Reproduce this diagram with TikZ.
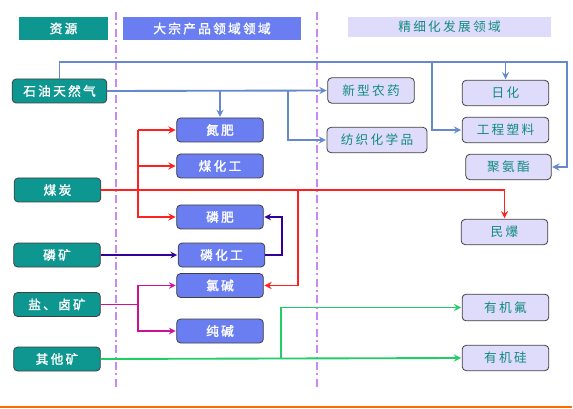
\documentclass[tikz,border=0pt]{standalone}
\usepackage{fontspec}
\newfontfamily\cjk{Noto Sans CJK SC}[LetterSpace=18]
\newfontfamily\cjkbold{Noto Sans CJK SC}[LetterSpace=18, FakeBold=1.6]
\definecolor{resteal}{HTML}{0E9690}
\definecolor{bulkblue}{HTML}{6A7EF2}
\definecolor{finelav}{HTML}{DEDCFA}
\definecolor{finetext}{HTML}{128A84}
\definecolor{oilblue}{HTML}{6688CC}
\definecolor{coalred}{HTML}{FF2020}
\definecolor{phospurple}{HTML}{330099}
\definecolor{saltmag}{HTML}{CC1199}
\definecolor{oregreen}{HTML}{22CC66}
\definecolor{divviolet}{HTML}{C888FA}
\definecolor{footorange}{HTML}{FF6A00}

\begin{document}
\begin{tikzpicture}
            [x=0.75pt, y=-0.75pt, >=stealth, shorten >=0.5pt,
             box/.style={draw=black!75, line width=0.6pt, rounded corners=3pt,
                         minimum width=65pt, minimum height=18pt, inner sep=0pt,
                         font=\cjk\fontsize{9.5}{10}\selectfont},
             res/.style={box, fill=resteal, text=white, font=\cjkbold\fontsize{9.5}{10}\selectfont},
             bulk/.style={box, fill=bulkblue, text=white, font=\cjkbold\fontsize{9.5}{10}\selectfont},
             fine/.style={box, fill=finelav, text=finetext, minimum height=19pt},
             head/.style={inner sep=0pt, minimum height=17pt, font=\cjk\fontsize{9.5}{10}\selectfont},
             oilline/.style={draw=oilblue, line width=1.4pt},
             coalline/.style={draw=coalred, line width=1.4pt},
             phosline/.style={draw=phospurple, line width=1.2pt},
             saltline/.style={draw=saltmag, line width=1.2pt},
             oreline/.style={draw=oregreen, line width=1.4pt},
             divider/.style={draw=divviolet, line width=1.4pt,
                             dash pattern=on 6pt off 2.5pt on 1.5pt off 2.5pt}]
            \useasboundingbox (0,0) rectangle (573,409);

            \draw[divider] (116,12) -- (116,388);
            \draw[divider] (317,12) -- (317,388);
            \draw[footorange, line width=1.1pt] (0,407) -- (573,407);

            \node[head, fill=resteal, text=white, font=\cjkbold\fontsize{9.5}{10}\selectfont, minimum width=66.75pt] (hres) at (63.5,28.5) {资源};
            \node[head, fill=bulkblue, text=white, font=\cjkbold\fontsize{9.5}{10}\selectfont, minimum width=133.5pt] (hbulk) at (212,28.5) {大宗产品领域领域};
            \node[head, fill=finelav, text=finetext, minimum width=152.25pt, minimum height=15pt] (hfine) at (449.5,27) {精细化发展领域};

            \node[res, minimum width=71pt] (gas) at (59.5,91) {石油天然气};
            \node[res] (coal) at (57.5,190) {煤炭};
            \node[res] (phosore) at (57,255) {磷矿};
            \node[res] (salt) at (57,304.5) {盐、卤矿};
            \node[res] (other) at (57,359) {其他矿};

            \node[bulk] (nfert) at (220,130) {氮肥};
            \node[bulk] (coalchem) at (220,166) {煤化工};
            \node[bulk] (pfert) at (220,217) {磷肥};
            \node[bulk] (pchem) at (221.5,255) {磷化工};
            \node[bulk] (chloralk) at (220,285.5) {氯碱};
            \node[bulk] (soda) at (220,331) {纯碱};

            \node[fine] (pest) at (371,90.5) {新型农药};
            \node[fine, minimum width=75pt] (textile) at (377,140) {纺织化学品};
            \node[fine] (daily) at (505.5,93) {日化};
            \node[fine] (plastic) at (505.5,130) {工程塑料};
            \node[fine, minimum width=64pt] (pu) at (508.5,167) {聚氨酯};
            \node[fine] (expl) at (504.5,232) {民爆};
            \node[fine, minimum height=20pt] (fluor) at (505.5,307.5) {有机氟};
            \node[fine] (silic) at (505.5,358) {有机硅};

            \coordinate (oiltop) at (567,62);
            \coordinate (oilplast) at (432,62);
            \coordinate (oiltex) at (288,91);
            \coordinate (coalfork) at (138,190);
            \coordinate (coalalk) at (298,190);
            \coordinate (phosback) at (282,255);
            \coordinate (saltfork) at (138,304.5);
            \coordinate (orefork) at (281,359);

            \path [oilline, ->] (gas.north) |- (oiltop) |- (pu.east);
            \path [->] (daily.north |- oiltop) edge [oilline] (daily.north);
            \path [oilline, ->] (oilplast) |- (plastic.west);
            \path [->] (gas.east) edge [oilline] (pest.west);
            \path [->] (nfert.north |- gas.east) edge [oilline] (nfert.north);
            \path [oilline, ->] (oiltex) |- (textile.west);

            \path [coalline, ->] (coal.east) -| (expl.north);
            \path [->] (coalfork |- nfert.west) edge [coalline] (nfert.west);
            \path [->] (coalfork |- coalchem.west) edge [coalline] (coalchem.west);
            \path [coalline, ->] (coalfork |- nfert.west) |- (pfert.west);
            \path [coalline, ->] (coalalk) |- (chloralk.east);

            \path [->] (phosore.east) edge [phosline] (pchem.west);
            \path [phosline, ->] (pchem.east) -- (phosback) |- (pfert.east);

            \path (salt.east) edge [saltline] (saltfork);
            \path [saltline, ->] (saltfork) |- (chloralk.west);
            \path [saltline, ->] (saltfork) |- (soda.west);

            \path [->] (other.east) edge [oreline] (silic.west);
            \path [oreline, ->] (orefork) |- (fluor.west);
        \end{tikzpicture}
\end{document}
